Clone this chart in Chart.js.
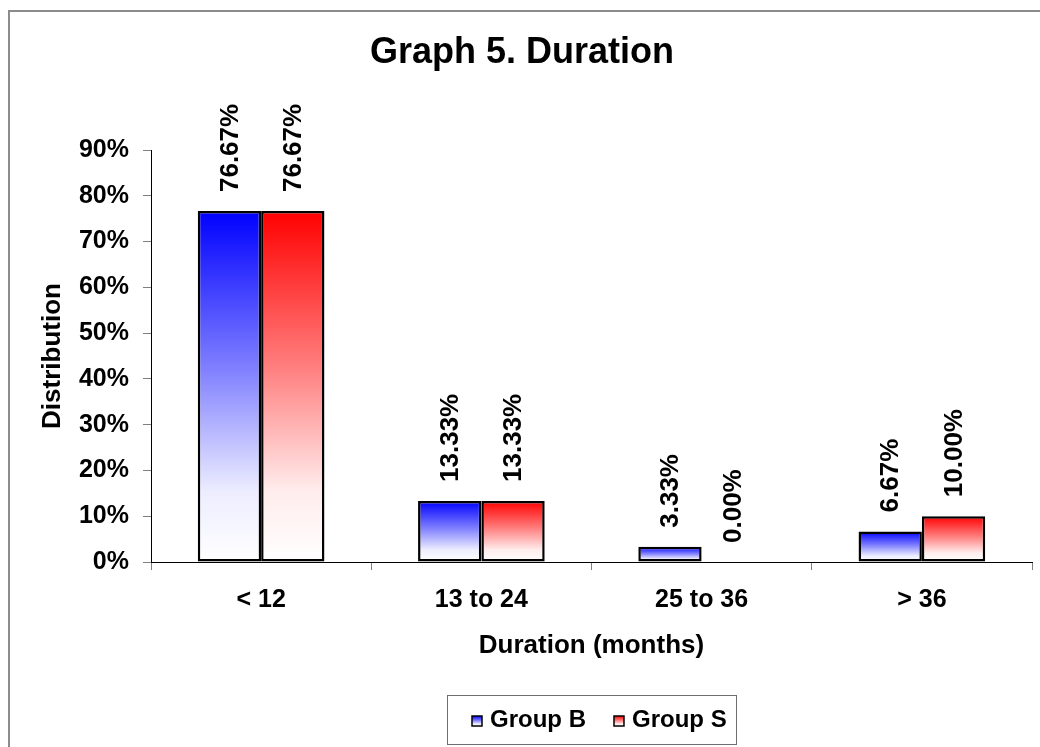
<!DOCTYPE html>
<html>
<head>
<meta charset="utf-8">
<script src="https://cdn.jsdelivr.net/npm/chart.js@4.4.1/dist/chart.umd.min.js"></script>
<style>
  html, body { margin: 0; padding: 0; background: #ffffff; }
  canvas { display: block; }
</style>
</head>
<body>
<canvas id="chart" width="1040" height="747"></canvas>
<script>
// ---- data ----
const categories = ['< 12', '13 to 24', '25 to 36', '> 36'];
const groupB = [76.67, 13.33, 3.33, 6.67];
const groupS = [76.67, 13.33, 0.00, 10.00];
const seriesNames = ['Group B', 'Group S'];
const seriesRGB = [[0, 0, 255], [255, 0, 0]];
const yTickMin = 0;
const yTickMax = 90;
const yTickStep = 10;
const chartTitle = 'Graph 5. Duration';
const xAxisTitle = 'Duration (months)';
const yAxisTitle = 'Distribution';

// ---- styling ----
const FONT = "'Liberation Sans', Arial, Helvetica, sans-serif";
const TICK_GRAY = '#808080';

const canvas = document.getElementById('chart');

// colour at a given whiteness (0 = full colour, 1 = white)
function tint(rgb, w) {
  const c = rgb.map(v => Math.round(v + (255 - v) * w));
  return `rgb(${c[0]},${c[1]},${c[2]})`;
}
// fade from full colour at the top to white at the bottom
const FADE = [[0, 0], [0.45, 0.5], [0.8, 0.93], [1, 1]];
function verticalFade(c, rgb, top, bottom) {
  const g = c.createLinearGradient(0, top, 0, bottom);
  FADE.forEach(([p, w]) => g.addColorStop(p, tint(rgb, w)));
  return g;
}
function barFill(rgb) {
  return (ctx) => {
    const chart = ctx.chart;
    const y = chart.scales && chart.scales.y;
    if (ctx.type !== 'data' || !y || !chart.chartArea) return tint(rgb, 0);
    const top = y.getPixelForValue(ctx.raw);
    const base = y.getPixelForValue(0);
    if (base - top < 0.5) return 'rgba(0,0,0,0)';
    return verticalFade(chart.ctx, rgb, top, base);
  };
}

// frame and title of the whole figure
const framePlugin = {
  id: 'frame',
  beforeDraw(chart) {
    const c = chart.ctx;
    c.save();
    c.fillStyle = '#ffffff';
    c.fillRect(0, 0, chart.width, chart.height);
    c.strokeStyle = '#8c8c8c';
    c.lineWidth = 2;
    c.beginPath();
    c.moveTo(9, chart.height + 5);
    c.lineTo(9, 11);
    c.lineTo(chart.width + 5, 11);
    c.stroke();
    c.fillStyle = '#000000';
    c.font = `bold 36px ${FONT}`;
    c.textAlign = 'center';
    c.textBaseline = 'middle';
    c.fillText(chartTitle, 522, 53);
    c.restore();
  }
};

// rotated value labels above each bar
const valueLabelPlugin = {
  id: 'valueLabels',
  afterDatasetsDraw(chart) {
    const c = chart.ctx;
    c.save();
    c.fillStyle = '#000000';
    c.font = `bold 26px ${FONT}`;
    c.textAlign = 'left';
    c.textBaseline = 'middle';
    chart.data.datasets.forEach((ds, di) => {
      const meta = chart.getDatasetMeta(di);
      meta.data.forEach((bar, i) => {
        c.save();
        c.translate(bar.x + 1, bar.y - 19);
        c.rotate(-Math.PI / 2);
        c.fillText(ds.data[i].toFixed(2) + '%', 0, 0);
        c.restore();
      });
    });
    c.restore();
  }
};

// boxed legend below the axis title
const legendBoxPlugin = {
  id: 'legendBox',
  afterDraw(chart) {
    const c = chart.ctx;
    const area = chart.chartArea;
    const cx = (area.left + area.right) / 2;
    const boxW = 289, boxTop = 695, boxH = 49;
    const left = Math.round(cx - boxW / 2) + 0.5;
    c.save();
    c.strokeStyle = '#6e6e6e';
    c.lineWidth = 1;
    c.strokeRect(left, boxTop + 0.5, boxW, boxH);
    c.font = `bold 24px ${FONT}`;
    c.textBaseline = 'middle';
    c.textAlign = 'left';
    const sq = 10, gapIn = 8, gapOut = 28;
    const widths = chart.data.datasets.map(d => c.measureText(d.label).width);
    const total = widths.reduce((a, w) => a + sq + gapIn + w, 0) + gapOut;
    let x = Math.round(cx - total / 2 + 8);
    const yMid = boxTop + boxH / 2 + 1;
    chart.data.datasets.forEach((d, i) => {
      const sy = Math.round(yMid - sq / 2);
      c.fillStyle = verticalFade(c, seriesRGB[i], sy, sy + sq);
      c.fillRect(x, sy, sq, sq);
      c.strokeStyle = '#000000';
      c.lineWidth = 1.5;
      c.strokeRect(x, sy, sq, sq);
      c.fillStyle = '#000000';
      c.fillText(d.label, x + sq + gapIn, yMid);
      x += sq + gapIn + widths[i] + gapOut;
    });
    c.restore();
  }
};

new Chart(canvas, {
  type: 'bar',
  data: {
    labels: categories,
    datasets: [
      {
        label: seriesNames[0],
        data: groupB,
        backgroundColor: barFill(seriesRGB[0]),
        borderColor: '#000000',
        borderWidth: 2.5,
        borderSkipped: false,
        categoryPercentage: 0.575,
        barPercentage: 1.0
      },
      {
        label: seriesNames[1],
        data: groupS,
        backgroundColor: barFill(seriesRGB[1]),
        borderColor: '#000000',
        borderWidth: 2.5,
        borderSkipped: false,
        categoryPercentage: 0.575,
        barPercentage: 1.0
      }
    ]
  },
  options: {
    responsive: false,
    animation: false,
    devicePixelRatio: 1,
    layout: { padding: { top: 150, right: 8, left: 0, bottom: 0 } },
    plugins: {
      legend: { display: false },
      title: { display: false },
      tooltip: { enabled: false }
    },
    scales: {
      x: {
        offset: true,
        grid: {
          offset: true,
          drawOnChartArea: false,
          drawTicks: true,
          tickLength: 8,
          color: TICK_GRAY
        },
        border: { display: true, color: '#000000', width: 1 },
        ticks: {
          color: '#000000',
          padding: 15,
          maxRotation: 0,
          font: { family: FONT, size: 25, weight: 'bold', lineHeight: 1.2 }
        },
        title: {
          display: true,
          text: xAxisTitle,
          color: '#000000',
          padding: { top: 0, bottom: 86 },
          font: { family: FONT, size: 26, weight: 'bold', lineHeight: 1.2 }
        },
        afterFit(scale) { scale.height = 185; }
      },
      y: {
        min: yTickMin,
        max: yTickMax,
        grid: {
          drawOnChartArea: false,
          drawTicks: true,
          tickLength: 8,
          color: TICK_GRAY
        },
        border: { display: true, color: '#000000', width: 1 },
        ticks: {
          stepSize: yTickStep,
          color: '#000000',
          padding: 14,
          callback: v => v + '%',
          font: { family: FONT, size: 25, weight: 'bold', lineHeight: 1.2 }
        },
        title: {
          display: true,
          text: yAxisTitle,
          color: '#000000',
          padding: { top: 37, bottom: 0 },
          font: { family: FONT, size: 26, weight: 'bold', lineHeight: 1.2 }
        },
        afterFit(scale) { scale.width = 151; }
      }
    }
  },
  plugins: [framePlugin, valueLabelPlugin, legendBoxPlugin]
});
</script>
</body>
</html>
